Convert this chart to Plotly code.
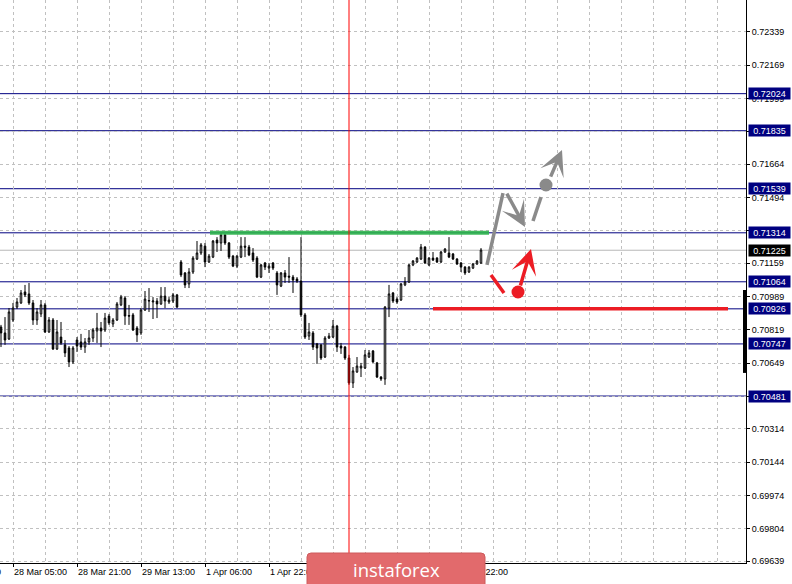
import plotly.graph_objects as go

# ---------------- data (H1 bars) ----------------
bar_index = list(range(121))

open_prices = [
    0.70833, 0.70803, 0.70772, 0.70869, 0.70935, 0.70956, 0.71012, 0.71002, 0.70956, 0.70869,
    0.70900, 0.70946, 0.70808, 0.70869, 0.70721, 0.70782, 0.70742, 0.70726, 0.70655, 0.70767,
    0.70757, 0.70731, 0.70757, 0.70777, 0.70813, 0.70828, 0.70818, 0.70889, 0.70849, 0.70869,
    0.70946, 0.70981, 0.70892, 0.70895, 0.70828, 0.70803, 0.70920, 0.70966, 0.70961, 0.70966,
    0.70951, 0.70991, 0.70961, 0.70966, 0.70997, 0.71165, 0.71109, 0.71053, 0.71114, 0.71180,
    0.71211, 0.71246, 0.71165, 0.71190, 0.71277, 0.71262, 0.71303, 0.71262, 0.71195, 0.71144,
    0.71190, 0.71246, 0.71241, 0.71211, 0.71185, 0.71088, 0.71160, 0.71134, 0.71160, 0.71109,
    0.71042, 0.71109, 0.71093, 0.71088, 0.71078, 0.71068, 0.70895, 0.70787, 0.70803, 0.70747,
    0.70742, 0.70680, 0.70777, 0.70782, 0.70838, 0.70736, 0.70731, 0.70675, 0.70548, 0.70604,
    0.70624, 0.70624, 0.70680, 0.70711, 0.70650, 0.70578, 0.70568, 0.70930, 0.71007, 0.70976,
    0.70971, 0.71048, 0.71063, 0.71150, 0.71165, 0.71180, 0.71241, 0.71150, 0.71185, 0.71185,
    0.71165, 0.71216, 0.71211, 0.71206, 0.71180, 0.71160, 0.71139, 0.71114, 0.71134, 0.71155,
    0.71160,
]
high_prices = [
    0.70844, 0.70884, 0.70930, 0.70956, 0.70981, 0.71022, 0.71048, 0.71058, 0.70971, 0.70930,
    0.70971, 0.70956, 0.70884, 0.70879, 0.70869, 0.70859, 0.70767, 0.70736, 0.70736, 0.70782,
    0.70798, 0.70777, 0.70818, 0.70828, 0.70905, 0.70859, 0.70905, 0.70900, 0.70879, 0.70961,
    0.70997, 0.70991, 0.70946, 0.70905, 0.70838, 0.70930, 0.71017, 0.71032, 0.70986, 0.70981,
    0.71037, 0.71037, 0.70986, 0.71007, 0.71002, 0.71175, 0.71114, 0.71134, 0.71195, 0.71272,
    0.71262, 0.71262, 0.71206, 0.71277, 0.71292, 0.71313, 0.71308, 0.71267, 0.71201, 0.71201,
    0.71292, 0.71292, 0.71252, 0.71236, 0.71195, 0.71155, 0.71165, 0.71160, 0.71165, 0.71119,
    0.71114, 0.71124, 0.71190, 0.71099, 0.71088, 0.71292, 0.70905, 0.70854, 0.70813, 0.70752,
    0.70747, 0.70787, 0.70803, 0.70869, 0.70844, 0.70752, 0.70736, 0.70691, 0.70629, 0.70680,
    0.70650, 0.70716, 0.70716, 0.70716, 0.70655, 0.70583, 0.70940, 0.71048, 0.71012, 0.70986,
    0.71058, 0.71088, 0.71155, 0.71175, 0.71190, 0.71257, 0.71246, 0.71190, 0.71216, 0.71190,
    0.71221, 0.71236, 0.71292, 0.71211, 0.71185, 0.71165, 0.71144, 0.71144, 0.71160, 0.71175,
    0.71236,
]
low_prices = [
    0.70731, 0.70742, 0.70767, 0.70859, 0.70925, 0.70951, 0.70986, 0.70946, 0.70844, 0.70844,
    0.70884, 0.70803, 0.70803, 0.70716, 0.70716, 0.70742, 0.70680, 0.70629, 0.70645, 0.70706,
    0.70716, 0.70701, 0.70742, 0.70757, 0.70752, 0.70731, 0.70808, 0.70844, 0.70833, 0.70864,
    0.70940, 0.70844, 0.70844, 0.70813, 0.70757, 0.70793, 0.70915, 0.70910, 0.70874, 0.70879,
    0.70946, 0.70930, 0.70951, 0.70956, 0.70930, 0.71088, 0.71032, 0.71032, 0.71104, 0.71175,
    0.71201, 0.71139, 0.71160, 0.71185, 0.71216, 0.71221, 0.71252, 0.71180, 0.71139, 0.71134,
    0.71185, 0.71190, 0.71195, 0.71165, 0.71083, 0.71083, 0.71124, 0.71109, 0.71124, 0.70997,
    0.71037, 0.71058, 0.71058, 0.71007, 0.71058, 0.70884, 0.70772, 0.70767, 0.70716, 0.70645,
    0.70665, 0.70675, 0.70772, 0.70777, 0.70706, 0.70696, 0.70665, 0.70538, 0.70522, 0.70599,
    0.70578, 0.70619, 0.70675, 0.70650, 0.70573, 0.70558, 0.70538, 0.70884, 0.70956, 0.70951,
    0.70966, 0.71042, 0.71058, 0.71144, 0.71160, 0.71175, 0.71155, 0.71144, 0.71170, 0.71160,
    0.71160, 0.71211, 0.71185, 0.71175, 0.71150, 0.71114, 0.71099, 0.71109, 0.71129, 0.71150,
    0.71155,
]
close_prices = [
    0.70803, 0.70767, 0.70910, 0.70930, 0.70961, 0.71007, 0.70997, 0.70956, 0.70869, 0.70910,
    0.70946, 0.70808, 0.70869, 0.70721, 0.70808, 0.70752, 0.70701, 0.70655, 0.70726, 0.70736,
    0.70731, 0.70757, 0.70777, 0.70818, 0.70828, 0.70813, 0.70879, 0.70854, 0.70869, 0.70951,
    0.70986, 0.70889, 0.70889, 0.70818, 0.70793, 0.70920, 0.70976, 0.70968, 0.70966, 0.70951,
    0.70991, 0.70966, 0.70971, 0.70997, 0.70935, 0.71099, 0.71048, 0.71114, 0.71185, 0.71211,
    0.71252, 0.71165, 0.71195, 0.71272, 0.71262, 0.71303, 0.71262, 0.71190, 0.71144, 0.71195,
    0.71246, 0.71241, 0.71201, 0.71175, 0.71088, 0.71150, 0.71139, 0.71144, 0.71134, 0.71048,
    0.71109, 0.71088, 0.71088, 0.71073, 0.71068, 0.70895, 0.70782, 0.70808, 0.70731, 0.70726,
    0.70675, 0.70777, 0.70787, 0.70838, 0.70731, 0.70726, 0.70675, 0.70548, 0.70609, 0.70634,
    0.70634, 0.70691, 0.70701, 0.70655, 0.70578, 0.70568, 0.70935, 0.71002, 0.70966, 0.70961,
    0.71053, 0.71063, 0.71150, 0.71170, 0.71185, 0.71241, 0.71160, 0.71185, 0.71175, 0.71165,
    0.71216, 0.71231, 0.71190, 0.71180, 0.71155, 0.71139, 0.71109, 0.71139, 0.71155, 0.71170,
    0.71226,
]

time_tick_bars = [3, 19, 35, 51, 67, 83, 99, 115]
time_tick_labels = ["28 Mar 05:00", "28 Mar 21:00", "29 Mar 13:00", "1 Apr 06:00",
                    "1 Apr 22:00", "2 Apr 14:00", "3 Apr 06:00", "3 Apr 22:00"]
previous_time_label = "27 Mar 13:00"

price_ticks = [0.72339, 0.72169, 0.71999, 0.71829, 0.71664, 0.71494, 0.71324, 0.71159,
               0.70989, 0.70819, 0.70649, 0.70479, 0.70314, 0.70144, 0.69974, 0.69804, 0.69639]

level_prices = [0.72024, 0.71835, 0.71539, 0.71314, 0.71064, 0.70926, 0.70747, 0.70481]
bid_price = 0.71225

resistance_level = 0.71314
resistance_bars = [52.25, 122]
support_level = 0.70926
support_bars = [108, 181.75]
separator_bar = 87

# bullish scenario (grey)
grey_leg_bars = [121.5, 125.5]
grey_leg_prices = [0.71150, 0.71517]
grey_pullback = dict(from_bar=126.25, from_price=0.71522, to_bar=131, to_price=0.71344)
grey_step_bars = [133, 135]
grey_step_prices = [0.71374, 0.71496]
grey_dot = (136.25, 0.71558)
grey_target = dict(from_bar=137.25, from_price=0.71593, to_bar=140.25, to_price=0.71736)

# bearish-then-rebound scenario (red)
red_leg_bars = [122.5, 125.75]
red_leg_prices = [0.71099, 0.71007]
red_dot = (129.25, 0.71012)
red_target = dict(from_bar=129.75, from_price=0.71037, to_bar=132.5, to_price=0.71231)

# ---------------- styling ----------------
FONT = "Liberation Sans, Arial, sans-serif"
GRID = "#c0c0c0"
NAVY = "#000080"
GREY = "#8a8a8a"
RED = "#ec1c24"
GREEN = "rgba(45,180,75,0.9)"

fig = go.Figure()

fig.add_trace(go.Candlestick(
    x=bar_index, open=open_prices, high=high_prices, low=low_prices, close=close_prices,
    increasing=dict(line=dict(color="black", width=1), fillcolor="white"),
    decreasing=dict(line=dict(color="black", width=1), fillcolor="black"),
    whiskerwidth=0, hoverinfo="skip", showlegend=False,
))

# green resistance and red support drawings
fig.add_trace(go.Scatter(x=resistance_bars, y=[resistance_level] * 2, mode="lines",
                         line=dict(color=GREEN, width=4), hoverinfo="skip"))
fig.add_trace(go.Scatter(x=support_bars, y=[support_level] * 2, mode="lines",
                         line=dict(color=RED, width=3.5), hoverinfo="skip"))

# scenario paths
fig.add_trace(go.Scatter(x=grey_leg_bars, y=grey_leg_prices, mode="lines",
                         line=dict(color=GREY, width=3.5), hoverinfo="skip"))
fig.add_trace(go.Scatter(x=grey_step_bars, y=grey_step_prices, mode="lines",
                         line=dict(color=GREY, width=3.5), hoverinfo="skip"))
fig.add_trace(go.Scatter(x=[grey_dot[0]], y=[grey_dot[1]], mode="markers",
                         marker=dict(color=GREY, size=13), hoverinfo="skip"))
fig.add_trace(go.Scatter(x=red_leg_bars, y=red_leg_prices, mode="lines",
                         line=dict(color=RED, width=3.5), hoverinfo="skip"))
fig.add_trace(go.Scatter(x=[red_dot[0]], y=[red_dot[1]], mode="markers",
                         marker=dict(color=RED, size=13), hoverinfo="skip"))

for arr, col in [(grey_pullback, GREY), (grey_target, GREY), (red_target, RED)]:
    fig.add_annotation(x=arr["to_bar"], y=arr["to_price"], ax=arr["from_bar"], ay=arr["from_price"],
                       xref="x", yref="y", axref="x", ayref="y", text="", showarrow=True,
                       arrowhead=3, arrowsize=1.2, arrowwidth=3.5, arrowcolor=col, standoff=0)

# horizontal level lines
for p in level_prices:
    fig.add_shape(type="line", xref="paper", x0=0, x1=1, yref="y", y0=p, y1=p,
                  line=dict(color=NAVY, width=1), layer="between")
fig.add_shape(type="line", xref="paper", x0=0, x1=1, yref="y", y0=bid_price, y1=bid_price,
              line=dict(color="#b8b8b8", width=1), layer="between")

# period separator
fig.add_shape(type="line", xref="x", x0=separator_bar, x1=separator_bar, yref="paper", y0=0, y1=1,
              line=dict(color="red", width=1), layer="above")

# thick mark on the price scale
fig.add_shape(type="rect", xref="paper", x0=743 / 746, x1=747 / 746, yref="y", y0=0.70599, y1=0.71022,
              fillcolor="black", line=dict(width=0), layer="above")

# price labels of levels
for p in level_prices:
    fig.add_annotation(xref="paper", x=1, xanchor="left", xshift=2, yref="y", y=p,
                       text=f"{p:.5f}", showarrow=False, bgcolor=NAVY, borderpad=0,
                       width=41, height=11, align="center",
                       font=dict(family=FONT, size=9, color="white"))
fig.add_annotation(xref="paper", x=1, xanchor="left", xshift=2, yref="y", y=bid_price,
                   text=f"{bid_price:.5f}", showarrow=False, bgcolor="black", borderpad=0,
                   width=41, height=11, align="center",
                   font=dict(family=FONT, size=9, color="white"))

# partially visible previous time label
fig.add_annotation(xref="paper", x=3 / 746, xanchor="right", yref="paper", y=-0.016, yanchor="middle",
                   text=previous_time_label, showarrow=False, font=dict(family=FONT, size=9, color="black"))

# instaforex badge
x0, x1 = 307 / 746, 485 / 746
yt, yb = (563 - 553) / 563, (563 - 592) / 563
rx, ry = 4 / 746, 4 / 563
badge_path = (f"M {x0},{yb} L {x0},{yt - ry} Q {x0},{yt} {x0 + rx},{yt} "
              f"L {x1 - rx},{yt} Q {x1},{yt} {x1},{yt - ry} L {x1},{yb} Z")
fig.add_shape(type="path", xref="paper", yref="paper", path=badge_path,
              fillcolor="#e26a6c", line=dict(color="#cd5b5d", width=1), layer="above")
fig.add_annotation(xref="paper", yref="paper", x=(307 + 485) / 2 / 746, y=(563 - 569) / 563,
                   xanchor="center", yanchor="middle", text="instaforex", showarrow=False,
                   font=dict(family="Open Sans, Roboto, sans-serif", size=18.5, color="white"))

fig.update_layout(
    width=792, height=584,
    margin=dict(l=0, r=46, t=0, b=21, pad=0, autoexpand=False),
    paper_bgcolor="white", plot_bgcolor="white",
    showlegend=False, boxgap=0.45,
    font=dict(family=FONT, size=9, color="black"),
    xaxis=dict(
        range=[-0.25, 186.25], fixedrange=True, automargin=False,
        rangeslider=dict(visible=False),
        tickmode="array", tickvals=time_tick_bars, ticktext=time_tick_labels,
        ticks="outside", ticklen=3, tickcolor="black", ticklabelposition="outside right",
        showline=True, linecolor="black", linewidth=1,
        showgrid=True, gridcolor=GRID, griddash="3px,3px", gridwidth=1, zeroline=False,
        minor=dict(tick0=3, dtick=8, showgrid=True, gridcolor=GRID, griddash="3px,3px", ticks=""),
    ),
    yaxis=dict(
        side="right", range=[0.69629, 0.72502], fixedrange=True, automargin=False,
        tickmode="array", tickvals=price_ticks, ticktext=[f"{v:.5f}" for v in price_ticks],
        ticks="outside", ticklen=3, tickcolor="black",
        showline=True, linecolor="black", linewidth=1,
        showgrid=True, gridcolor=GRID, griddash="3px,3px", gridwidth=1, zeroline=False,
    ),
)

fig.write_html("out.html", config={"displayModeBar": False},
               post_script="document.body.style.margin='0px';document.body.style.overflow='hidden';")
